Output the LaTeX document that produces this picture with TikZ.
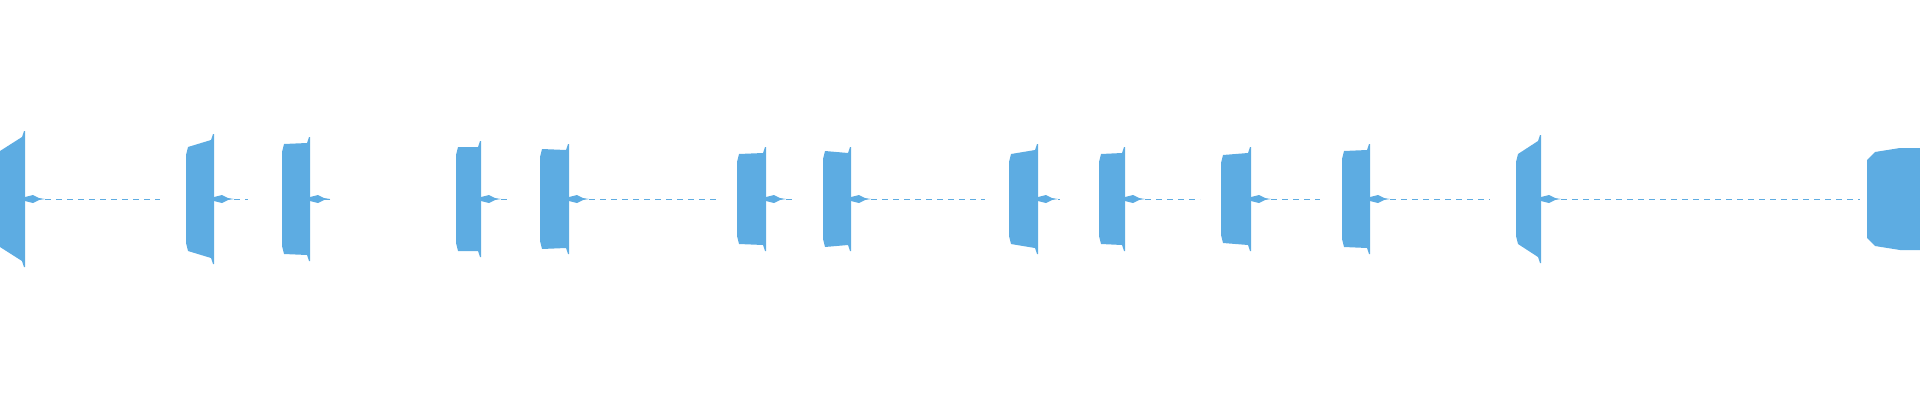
\documentclass[tikz,border=0pt]{standalone}
\definecolor{wave}{RGB}{93,172,226}
\begin{document}
\begin{tikzpicture}[x=1pt,y=-1pt,
  burst/.style={fill=wave,draw=none},
  trail/.style={draw=wave,line width=1pt,dash pattern=on 6pt off 5pt}]
\useasboundingbox (0,0) rectangle (1920,400);
% x1, x2, start half-height, end half-height, trail end
\foreach \a/\b/\h/\k/\e in {-2/25/48/68/160, 186/214/52/65/248, 282/310/55/62/320,
  456/481/52/58/510, 540/569/50/55/720, 737/766/45/52/795, 823/851/48/52/985,
  1009/1038/45/55/1060, 1099/1125/45/52/1200, 1221/1251/44/52/1320,
  1342/1370/48/55/1490, 1516/1541/45/64/1860}{
  \fill[burst] (\a,199-\h+8) -- (\a+2,199-\h) -- (\b-3,199-\k+6) -- (\b-1,199-\k) -- (\b,199-\k)
    -- (\b,199+\k) -- (\b-1,199+\k) -- (\b-3,199+\k-6) -- (\a+2,199+\h) -- (\a,199+\h-8) -- cycle;
  \fill[burst] (\b,197) -- (\b+8,195) -- (\b+14,198) -- (\b+20,199) -- (\b+14,200) -- (\b+8,203) -- (\b,201) -- cycle;
  \draw[trail] (\b+20,199) -- (\e,199);
}
\fill[burst] (1867,160) -- (1875,152) -- (1900,148) -- (1920,148) -- (1920,250) -- (1900,250) -- (1875,246) -- (1867,238) -- cycle;
\end{tikzpicture}
\end{document}
